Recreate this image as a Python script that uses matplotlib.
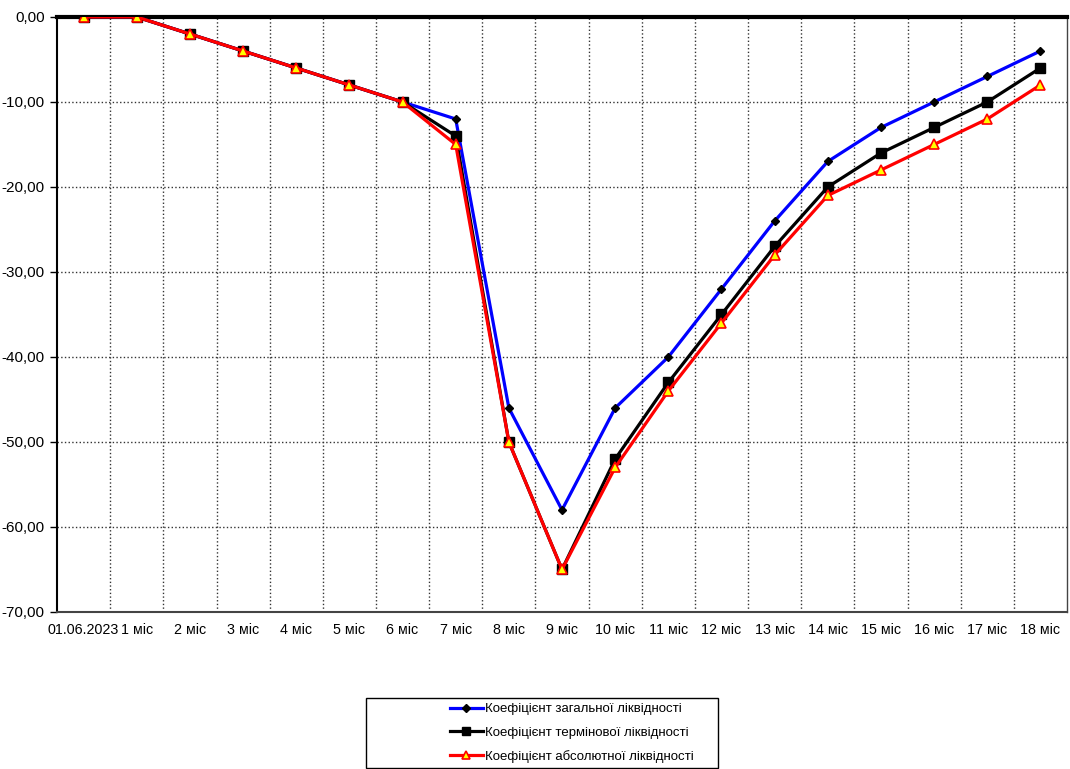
import matplotlib
matplotlib.use("Agg")
import matplotlib.pyplot as plt
import matplotlib.patches as mpatches
import numpy as np

plt.rcParams['font.family'] = ['Liberation Sans', 'DejaVu Sans']

# categories and series
labels = ['01.06.2023', '1 міс', '2 міс', '3 міс', '4 міс', '5 міс', '6 міс', '7 міс',
          '8 міс', '9 міс', '10 міс', '11 міс', '12 міс', '13 міс', '14 міс', '15 міс',
          '16 міс', '17 міс', '18 міс']
zagalna = [0, 0, -2, -4, -6, -8, -10, -12, -46, -58, -46, -40, -32, -24, -17, -13, -10, -7, -4]
terminova = [0, 0, -2, -4, -6, -8, -10, -14, -50, -65, -52, -43, -35, -27, -20, -16, -13, -10, -6]
absolutna = [0, 0, -2, -4, -6, -8, -10, -15, -50, -65, -53, -44, -36, -28, -21, -18, -15, -12, -8]
names = ['Коефіцієнт загальної ліквідності',
         'Коефіцієнт термінової ліквідності',
         'Коефіцієнт абсолютної ліквідності']

fig = plt.figure(figsize=(10.7, 7.69), dpi=100, facecolor='white')
ax = fig.add_axes([0.0533, 0.2042, 0.9439, 0.7737])

x = np.arange(len(labels))
ax.plot(x, zagalna, color='#0000ff', lw=2.3, marker='D', ms=4.5,
        mfc='black', mec='black', label=names[0], zorder=3)
ax.plot(x, terminova, color='black', lw=2.3, marker='s', ms=6.5,
        mfc='black', mec='black', label=names[1], zorder=4)
ax.plot(x, absolutna, color='#ff0000', lw=2.3, marker='^', ms=6.5,
        mfc='#ffff00', mec='#ff0000', mew=1.2, label=names[2], zorder=5)

ax.set_xlim(-0.5, len(labels) - 0.5)
ax.set_ylim(-70, 0)
yt = np.arange(-70, 1, 10)
ax.set_yticks(yt)
ax.set_yticklabels([('%.2f' % v).replace('.', ',') for v in yt])
ax.set_xticks(x)
ax.set_xticklabels(labels)
ax.set_xticks(np.arange(0.5, len(labels) - 1, 1), minor=True)

ax.grid(True, which='minor', axis='x', color='#333333', ls=':', lw=1.0)
ax.grid(True, which='major', axis='y', color='#333333', ls=':', lw=1.0)
ax.tick_params(axis='x', which='both', length=0, labelsize=10.3, pad=8)
ax.tick_params(axis='y', length=5, width=1, labelsize=11, pad=4)

ax.spines['top'].set_linewidth(3)
ax.spines['top'].set_color('black')
ax.spines['left'].set_linewidth(1.5)
ax.spines['bottom'].set_linewidth(1.5)
ax.spines['bottom'].set_color('#444444')
ax.spines['right'].set_linewidth(1.0)
ax.spines['right'].set_color('#444444')

# legend box drawn separately, entries placed inside
box = mpatches.Rectangle((366 / 1070, 1.5 / 769), 352 / 1070, 70 / 769,
                         transform=fig.transFigure, fill=False,
                         edgecolor='black', lw=1.0)
fig.patches.append(box)
leg = fig.legend(loc='center left', bbox_to_anchor=(450 / 1070, 36 / 769),
                 frameon=False, fontsize=9.5, handlelength=2.5,
                 handletextpad=0.15, labelspacing=0.85, markerscale=0.8,
                 borderpad=0, borderaxespad=0)

fig.savefig('out.png', dpi=100, facecolor='white')
